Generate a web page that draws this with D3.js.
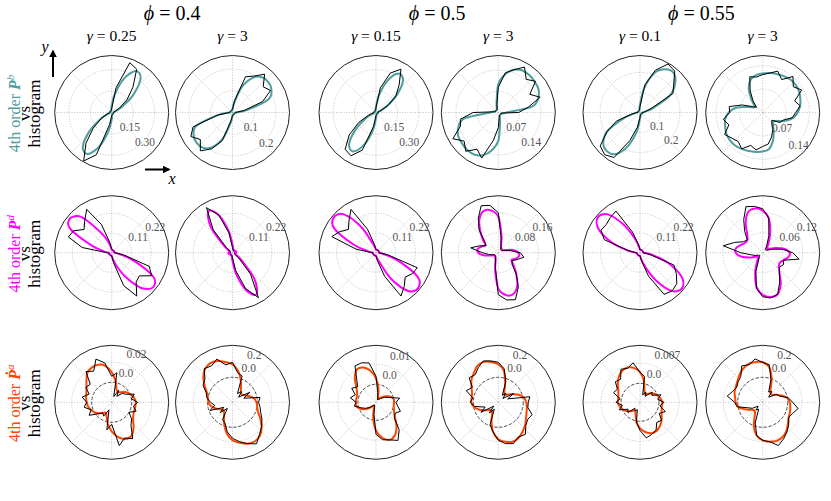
<!DOCTYPE html>
<html><head><meta charset="utf-8">
<script src="https://cdn.jsdelivr.net/npm/d3@7"></script>
<style>body{margin:0;background:#fff} text{font-family:"Liberation Serif","DejaVu Serif",serif}</style>
</head><body><svg id="c" width="831" height="501"></svg>
<script>
// ---------------- DATA ----------------
const thetaDeg = [0,10,20,30,40,50,60,70,80,90,100,110,120,130,140,150,160,170,180,190,200,210,220,230,240,250,260,270,280,290,300,310,320,330,340,350];
const phiLabels = ["ϕ = 0.4", "ϕ = 0.5", "ϕ = 0.55"];
const gammaLabels = ["γ = 0.25", "γ = 3", "γ = 0.15", "γ = 3", "γ = 0.1", "γ = 3"];

// row 1 : 4th order P^b vs histogram
const fit_r1c1 = [0.011,0.014,0.032,0.091,0.203,0.315,0.336,0.252,0.133,0.049,0.018,0.011,0.011,0.011,0.011,0.011,0.011,0.011,0.011,0.014,0.032,0.091,0.203,0.315,0.336,0.252,0.133,0.049,0.018,0.011,0.011,0.011,0.011,0.011,0.011,0.011];
const hist_r1c1 = [0.014,0.014,0.028,0.063,0.14,0.231,0.35,0.371,0.175,0.028,0.014,0.014,0.014,0.014,0.014,0.014,0.014,0.014,0.014,0.014,0.035,0.084,0.168,0.28,0.392,0.315,0.084,0.021,0.014,0.014,0.014,0.014,0.014,0.014,0.014,0.014];
const fit_r1c2 = [0.014,0.069,0.175,0.207,0.216,0.212,0.184,0.124,0.046,0.014,0.009,0.009,0.009,0.009,0.009,0.009,0.009,0.009,0.014,0.069,0.175,0.207,0.216,0.212,0.184,0.124,0.046,0.014,0.009,0.009,0.009,0.009,0.009,0.009,0.009,0.009];
const hist_r1c2 = [0.014,0.055,0.147,0.202,0.184,0.23,0.193,0.175,0.055,0.014,0.012,0.012,0.012,0.012,0.012,0.012,0.012,0.012,0.014,0.069,0.193,0.221,0.193,0.23,0.193,0.138,0.037,0.014,0.012,0.012,0.012,0.012,0.012,0.012,0.012,0.012];
const fit_r1c3 = [0.011,0.014,0.028,0.084,0.189,0.294,0.315,0.238,0.126,0.042,0.018,0.011,0.011,0.011,0.011,0.011,0.011,0.011,0.011,0.014,0.028,0.084,0.189,0.294,0.315,0.238,0.126,0.042,0.018,0.011,0.011,0.011,0.011,0.011,0.011,0.011];
const hist_r1c3 = [0.014,0.014,0.028,0.098,0.182,0.252,0.35,0.294,0.175,0.035,0.014,0.014,0.014,0.014,0.014,0.014,0.014,0.014,0.014,0.021,0.056,0.14,0.245,0.336,0.35,0.28,0.098,0.021,0.014,0.014,0.014,0.014,0.014,0.014,0.014,0.014];
const fit_r1c4 = [0.027,0.113,0.14,0.153,0.157,0.16,0.16,0.15,0.127,0.093,0.033,0.013,0.01,0.01,0.01,0.01,0.01,0.017,0.027,0.113,0.14,0.153,0.157,0.16,0.16,0.15,0.127,0.093,0.033,0.013,0.01,0.01,0.01,0.01,0.01,0.017];
const hist_r1c4 = [0.067,0.1,0.147,0.12,0.16,0.143,0.173,0.15,0.133,0.083,0.027,0.01,0.01,0.01,0.01,0.01,0.01,0.013,0.083,0.127,0.133,0.173,0.147,0.167,0.14,0.16,0.093,0.05,0.017,0.01,0.01,0.01,0.01,0.01,0.01,0.01];
const fit_r1c5 = [0.015,0.03,0.075,0.175,0.23,0.26,0.25,0.21,0.125,0.04,0.015,0.01,0.01,0.01,0.01,0.01,0.01,0.01,0.015,0.03,0.09,0.19,0.24,0.255,0.24,0.18,0.1,0.03,0.015,0.01,0.01,0.01,0.01,0.01,0.01,0.01];
const hist_r1c5 = [0.015,0.025,0.06,0.19,0.22,0.27,0.28,0.225,0.14,0.03,0.015,0.01,0.01,0.01,0.01,0.01,0.01,0.01,0.015,0.04,0.125,0.19,0.26,0.275,0.26,0.15,0.075,0.025,0.01,0.01,0.01,0.01,0.01,0.01,0.01,0.01];
const fit_r1c6 = [0.105,0.114,0.12,0.126,0.129,0.129,0.126,0.123,0.12,0.117,0.114,0.105,0.084,0.054,0.033,0.03,0.048,0.081,0.102,0.114,0.12,0.126,0.129,0.129,0.126,0.123,0.12,0.117,0.111,0.09,0.066,0.048,0.042,0.051,0.072,0.093];
const hist_r1c6 = [0.099,0.114,0.102,0.135,0.12,0.141,0.114,0.132,0.12,0.114,0.108,0.114,0.075,0.045,0.024,0.036,0.066,0.102,0.099,0.12,0.108,0.132,0.12,0.114,0.126,0.105,0.114,0.102,0.096,0.078,0.06,0.042,0.036,0.06,0.066,0.09];

// row 2 : 4th order P^d vs histogram
const fit_r2c1 = [0.017,0.014,0.014,0.014,0.014,0.014,0.014,0.014,0.017,0.017,0.034,0.078,0.14,0.258,0.302,0.269,0.123,0.045,0.017,0.014,0.014,0.014,0.014,0.014,0.014,0.014,0.017,0.017,0.034,0.078,0.157,0.258,0.302,0.269,0.134,0.045];
const hist_r2c1 = [0.017,0.017,0.017,0.017,0.017,0.017,0.017,0.017,0.017,0.022,0.056,0.168,0.28,0.235,0.202,0.246,0.258,0.168,0.028,0.017,0.017,0.017,0.017,0.017,0.017,0.017,0.017,0.017,0.056,0.196,0.28,0.213,0.202,0.258,0.224,0.067];
const fit_r2c2 = [0.022,0.022,0.022,0.017,0.017,0.017,0.017,0.017,0.022,0.045,0.123,0.224,0.269,0.19,0.067,0.022,0.017,0.017,0.022,0.022,0.022,0.017,0.017,0.017,0.017,0.017,0.022,0.045,0.123,0.224,0.269,0.19,0.067,0.022,0.017,0.017];
const hist_r2c2 = [0.011,0.011,0.011,0.011,0.011,0.011,0.011,0.011,0.017,0.028,0.112,0.224,0.291,0.168,0.045,0.017,0.011,0.011,0.011,0.011,0.011,0.011,0.011,0.011,0.011,0.011,0.017,0.028,0.101,0.213,0.291,0.157,0.045,0.017,0.011,0.011];
const fit_r2c3 = [0.017,0.017,0.017,0.017,0.017,0.017,0.017,0.017,0.017,0.017,0.028,0.056,0.168,0.28,0.308,0.269,0.134,0.045,0.017,0.017,0.017,0.017,0.017,0.017,0.017,0.017,0.017,0.017,0.028,0.056,0.168,0.28,0.308,0.269,0.134,0.045];
const hist_r2c3 = [0.017,0.017,0.017,0.017,0.017,0.017,0.017,0.017,0.017,0.017,0.045,0.14,0.28,0.235,0.202,0.235,0.263,0.112,0.022,0.017,0.017,0.017,0.017,0.017,0.017,0.017,0.017,0.017,0.045,0.14,0.28,0.246,0.213,0.235,0.246,0.067];
const fit_r2c4 = [0.08,0.06,0.032,0.02,0.02,0.02,0.024,0.032,0.072,0.144,0.172,0.176,0.152,0.112,0.08,0.06,0.072,0.084,0.08,0.06,0.032,0.02,0.02,0.02,0.024,0.032,0.072,0.144,0.172,0.176,0.152,0.112,0.08,0.06,0.072,0.084];
const hist_r2c4 = [0.088,0.048,0.024,0.016,0.016,0.016,0.02,0.032,0.064,0.16,0.192,0.2,0.16,0.12,0.072,0.056,0.08,0.112,0.064,0.04,0.024,0.016,0.016,0.016,0.02,0.032,0.064,0.168,0.192,0.2,0.16,0.112,0.072,0.064,0.08,0.104];
const fit_r2c5 = [0.022,0.017,0.017,0.017,0.017,0.017,0.017,0.017,0.017,0.017,0.034,0.084,0.179,0.28,0.308,0.269,0.168,0.067,0.022,0.017,0.017,0.017,0.017,0.017,0.017,0.017,0.017,0.017,0.034,0.084,0.179,0.28,0.308,0.269,0.168,0.067];
const hist_r2c5 = [0.017,0.017,0.017,0.017,0.017,0.017,0.017,0.017,0.017,0.017,0.045,0.123,0.269,0.258,0.246,0.252,0.213,0.067,0.022,0.017,0.017,0.017,0.017,0.017,0.017,0.017,0.017,0.017,0.045,0.14,0.269,0.28,0.269,0.235,0.202,0.056];
const fit_r2c6 = [0.081,0.066,0.042,0.024,0.018,0.021,0.036,0.066,0.105,0.126,0.135,0.129,0.102,0.072,0.06,0.06,0.069,0.081,0.081,0.066,0.042,0.024,0.018,0.021,0.036,0.066,0.105,0.126,0.135,0.132,0.108,0.078,0.063,0.06,0.066,0.078];
const hist_r2c6 = [0.09,0.06,0.03,0.015,0.012,0.012,0.024,0.054,0.105,0.132,0.141,0.147,0.114,0.084,0.06,0.066,0.09,0.12,0.066,0.036,0.024,0.015,0.012,0.015,0.024,0.06,0.108,0.132,0.138,0.132,0.102,0.078,0.066,0.072,0.066,0.111];

// row 3 : 4th order dP^a vs histogram
const fit_r3c1 = [0.004,0.003,0.001,-0.001,-0.004,-0.007,-0.008,-0.006,0.002,0.01,0.017,0.02,0.02,0.018,0.013,0.009,0.007,0.006,0.005,0.004,0.002,0,-0.003,-0.006,-0.008,-0.005,0.002,0.009,0.015,0.019,0.019,0.014,0.008,0.005,0.004,0.004];
const hist_r3c1 = [0.006,0,0.004,-0.004,-0.006,-0.012,-0.006,-0.014,0.01,0.006,0.02,0.026,0.016,0.02,0.008,0.01,0.004,0.01,0.005,0.008,0.002,0.006,-0.002,-0.006,-0.004,-0.012,0.008,0.002,0.024,0.018,0.022,0.01,0.006,0,0.006,0.002];
const fit_r3c2 = [-0.014,-0.042,-0.098,-0.154,-0.182,-0.168,-0.112,-0.014,0.098,0.182,0.224,0.266,0.28,0.252,0.182,0.098,0.028,0,-0.014,-0.042,-0.098,-0.154,-0.182,-0.168,-0.112,-0.014,0.098,0.182,0.224,0.266,0.28,0.252,0.182,0.098,0.028,0];
const hist_r3c2 = [0.014,0.042,-0.182,-0.07,-0.238,-0.154,-0.21,0.042,0.07,0.21,0.182,0.294,0.238,0.266,0.154,0.126,0.042,0.014,-0.042,-0.098,-0.014,-0.21,-0.126,-0.238,-0.07,-0.042,0.07,0.154,0.21,0.266,0.322,0.238,0.182,0.126,0.07,0.042];
const fit_r3c3 = [0,0,-0.001,-0.003,-0.005,-0.0065,-0.007,-0.006,-0.002,0.003,0.007,0.0095,0.01,0.0075,0.004,0.002,0.001,0.001,0.001,0.001,0,-0.002,-0.0045,-0.0065,-0.007,-0.006,-0.001,0.005,0.009,0.011,0.01,0.007,0.0035,0.0015,0.0005,0];
const hist_r3c3 = [0.001,0.003,-0.002,-0.004,-0.006,-0.007,-0.0075,-0.0065,-0.004,0.004,0.011,0.012,0.012,0.006,0.003,0.005,0.002,0.004,0.001,0.002,-0.001,-0.003,-0.005,-0.007,-0.0075,-0.007,-0.003,0.007,0.01,0.011,0.013,0.009,0.003,0.002,0.004,0.002];
const fit_r3c4 = [0.042,0.014,-0.042,-0.126,-0.182,-0.21,-0.182,-0.07,0.098,0.182,0.224,0.252,0.238,0.182,0.14,0.084,0.042,0.028,0.028,0,-0.056,-0.126,-0.182,-0.21,-0.182,-0.07,0.07,0.168,0.21,0.238,0.224,0.182,0.14,0.098,0.07,0.056];
const hist_r3c4 = [0.07,0.098,-0.21,-0.098,-0.266,-0.182,-0.238,-0.042,0.126,0.21,0.238,0.266,0.21,0.154,0.182,0.07,0.126,0.014,0.042,-0.014,-0.154,-0.07,-0.266,-0.154,-0.238,-0.014,0.07,0.182,0.238,0.266,0.21,0.238,0.154,0.126,0.154,0.07];
const fit_r3c5 = [0.0011,0.0007,0,-0.0007,-0.0018,-0.0028,-0.0032,-0.0021,0.0011,0.0039,0.0056,0.0063,0.006,0.0049,0.0035,0.0021,0.0014,0.0011,0.0011,0.0007,0,-0.0007,-0.0018,-0.0028,-0.0032,-0.0021,0.0004,0.0025,0.0039,0.0049,0.0049,0.0042,0.0032,0.0021,0.0014,0.0011];
const hist_r3c5 = [0.0018,-0.0004,0.0011,-0.0018,-0.0011,-0.0039,-0.0025,-0.0039,0.0025,0.0039,0.0074,0.006,0.0067,0.0039,0.0046,0.0025,0.0032,0.0004,0.0018,-0.0004,0.0011,-0.0018,-0.0011,-0.0039,-0.0032,-0.0039,0.0004,0.0032,0.006,0.0053,0.0046,0.0025,0.0032,0.0011,0.0028,0.0004];
const fit_r3c6 = [0.028,0,-0.07,-0.14,-0.182,-0.182,-0.126,0.014,0.154,0.21,0.224,0.224,0.196,0.154,0.112,0.084,0.07,0.042,0.028,0,-0.07,-0.14,-0.182,-0.182,-0.126,0.014,0.126,0.182,0.21,0.224,0.21,0.168,0.112,0.07,0.056,0.042];
const hist_r3c6 = [0.07,0.014,-0.098,-0.126,-0.238,-0.154,-0.182,-0.014,0.182,0.21,0.266,0.21,0.238,0.126,0.098,0.07,0.098,0.154,0.042,0.014,-0.126,-0.182,-0.266,-0.21,-0.238,-0.042,0.126,0.182,0.21,0.294,0.238,0.182,0.126,0.07,0.098,0.154];

// radial axis limits and ticks
const rLimits = [
  [[0,0.399],[0,0.262],[0,0.399],[0,0.188],[0,0.285],[0,0.171]],
  [[0,0.319],[0,0.319],[0,0.319],[0,0.228],[0,0.319],[0,0.171]],
  [[-0.02,0.037],[-0.35,0.448],[-0.009,0.0195],[-0.35,0.448],[-0.00665,0.0133],[-0.35,0.448]]
];
const rTicks = [
  [[0.15,0.30],[0.1,0.2],[0.15,0.30],[0.07,0.14],[0.1,0.2],[0.07,0.14]],
  [[0.11,0.22],[0.11,0.22],[0.11,0.22],[0.08,0.16],[0.11,0.22],[0.06,0.12]],
  [[0,0.02],[0,0.2],[0,0.01],[0,0.2],[0,0.007],[0,0.2]]
];
const rTickLabels = [
  [["0.15","0.30"],["0.1","0.2"],["0.15","0.30"],["0.07","0.14"],["0.1","0.2"],["0.07","0.14"]],
  [["0.11","0.22"],["0.11","0.22"],["0.11","0.22"],["0.08","0.16"],["0.11","0.22"],["0.06","0.12"]],
  [["0.0","0.02"],["0.0","0.2"],["0.0","0.01"],["0.0","0.2"],["0.0","0.007"],["0.0","0.2"]]
];
const fits = [[fit_r1c1,fit_r1c2,fit_r1c3,fit_r1c4,fit_r1c5,fit_r1c6],[fit_r2c1,fit_r2c2,fit_r2c3,fit_r2c4,fit_r2c5,fit_r2c6],[fit_r3c1,fit_r3c2,fit_r3c3,fit_r3c4,fit_r3c5,fit_r3c6]];
const hists = [[hist_r1c1,hist_r1c2,hist_r1c3,hist_r1c4,hist_r1c5,hist_r1c6],[hist_r2c1,hist_r2c2,hist_r2c3,hist_r2c4,hist_r2c5,hist_r2c6],[hist_r3c1,hist_r3c2,hist_r3c3,hist_r3c4,hist_r3c5,hist_r3c6]];
const rowNames = [["4th order ","P","b"],["4th order ","P","d"],["4th order ","Ṗ","a"]];

// ---------------- LAYOUT / STYLE ----------------
const svg = d3.select("#c");
const R = 57;
const colX = [111.7, 232.5, 376, 498.3, 640, 762.7];
const rowY = [112.5, 252.7, 402.3];
const rowColors = ["#4f9d9d", "#ff00ff", "#ff4500"];
const toRad = d => (90 - d) * Math.PI / 180;

phiLabels.forEach((t,i) => {
  const tx = svg.append("text").attr("x", (colX[2*i]+colX[2*i+1])/2).attr("y", 20)
    .attr("text-anchor","middle").attr("font-size", 20);
  tx.append("tspan").attr("font-style","italic").text(t.slice(0,1));
  tx.append("tspan").text(t.slice(1));
});
gammaLabels.forEach((t,i) => {
  const tx = svg.append("text").attr("x", colX[i]).attr("y", 41)
    .attr("text-anchor","middle").attr("font-size", 15.5);
  tx.append("tspan").attr("font-style","italic").text(t.slice(0,1));
  tx.append("tspan").text(t.slice(1));
});

for (let row=0; row<3; row++) {
  for (let col=0; col<6; col++) {
    const g = svg.append("g").attr("transform", `translate(${colX[col]},${rowY[row]})`);
    const r = d3.scaleLinear().domain(rLimits[row][col]).range([0, R]);
    d3.range(0, 360, 45).forEach(a => {
      g.append("line").attr("x1",0).attr("y1",0)
        .attr("x2", R*Math.cos(a*Math.PI/180)).attr("y2", -R*Math.sin(a*Math.PI/180))
        .attr("stroke","#b4b4b4").attr("stroke-width",0.8).attr("stroke-dasharray","1,1.6");
    });
    rTicks[row][col].forEach(t => {
      g.append("circle").attr("r", r(t)).attr("fill","none")
        .attr("stroke","#b4b4b4").attr("stroke-width",0.8).attr("stroke-dasharray","1,1.6");
    });
    if (row === 2) {
      g.append("circle").attr("r", r(0)).attr("fill","none")
        .attr("stroke","#222").attr("stroke-width",0.8).attr("stroke-dasharray","3,2");
    }
    g.append("circle").attr("r", R).attr("fill","none").attr("stroke","#222").attr("stroke-width",1);

    const lineH = d3.lineRadial().angle((d,i) => toRad(thetaDeg[i])).radius(d => r(d)).curve(d3.curveLinearClosed);
    const lineF = d3.lineRadial().angle((d,i) => toRad(thetaDeg[i])).radius(d => r(d)).curve(d3.curveCardinalClosed.tension(0));
    g.append("path").attr("d", lineF(fits[row][col])).attr("fill","none")
      .attr("stroke", rowColors[row]).attr("stroke-width", 2);
    g.append("path").attr("d", lineH(hists[row][col])).attr("fill","none")
      .attr("stroke", "#000").attr("stroke-width", 1);

    rTicks[row][col].forEach((t,k) => {
      const lab = rTickLabels[row][col][k];
      const rr = r(t);
      let x, y, anchor;
      if (row === 0) {
        const a = -45*Math.PI/180;
        x = rr*Math.cos(a) + 3; y = -rr*Math.sin(a) + 3.5; anchor = "middle";
      } else if (row === 1) {
        const a = 30*Math.PI/180;
        x = rr*Math.cos(a) - 0.5; y = -rr*Math.sin(a) - 2; anchor = "start";
      } else {
        const a = 67.5*Math.PI/180;
        x = rr*Math.cos(a) - 0.5; y = -rr*Math.sin(a) - 7; anchor = "start";
      }
      g.append("text").attr("x", x).attr("y", y).attr("text-anchor", anchor)
        .attr("font-size", 11.5).attr("fill", "#555").text(lab);
    });
  }
}

rowNames.forEach((nm, row) => {
  const cy = rowY[row] + 1;
  const t1 = svg.append("text").attr("transform", `translate(19.5,${cy}) rotate(-90)`)
    .attr("text-anchor","middle").attr("font-size", 16).attr("fill", rowColors[row]);
  t1.append("tspan").text(nm[0]);
  t1.append("tspan").attr("font-style","italic").attr("font-weight","bold").text(nm[1]);
  t1.append("tspan").attr("font-style","italic").attr("font-size", 11).attr("dy", -6).text(nm[2]);
  svg.append("text").attr("transform", `translate(29.5,${cy}) rotate(-90)`)
    .attr("text-anchor","middle").attr("font-size", 17).text("vs");
  svg.append("text").attr("transform", `translate(39.5,${cy}) rotate(-90)`)
    .attr("text-anchor","middle").attr("font-size", 17).text("histogram");
});

const defs = svg.append("defs");
defs.append("marker").attr("id","ah").attr("viewBox","0 0 10 10").attr("refX",8).attr("refY",5)
  .attr("markerWidth",4).attr("markerHeight",4).attr("orient","auto")
  .append("path").attr("d","M0,0 L10,5 L0,10 z").attr("fill","#000");
svg.append("line").attr("x1",53).attr("y1",77).attr("x2",53).attr("y2",51)
  .attr("stroke","#000").attr("stroke-width",2).attr("marker-end","url(#ah)");
svg.append("text").attr("x",45).attr("y",52).attr("text-anchor","middle")
  .attr("font-style","italic").attr("font-size",16).text("y");
svg.append("line").attr("x1",145).attr("y1",169.5).attr("x2",169).attr("y2",169.5)
  .attr("stroke","#000").attr("stroke-width",2).attr("marker-end","url(#ah)");
svg.append("text").attr("x",172).attr("y",184).attr("text-anchor","middle")
  .attr("font-style","italic").attr("font-size",16).text("x");
</script>
</body></html>
